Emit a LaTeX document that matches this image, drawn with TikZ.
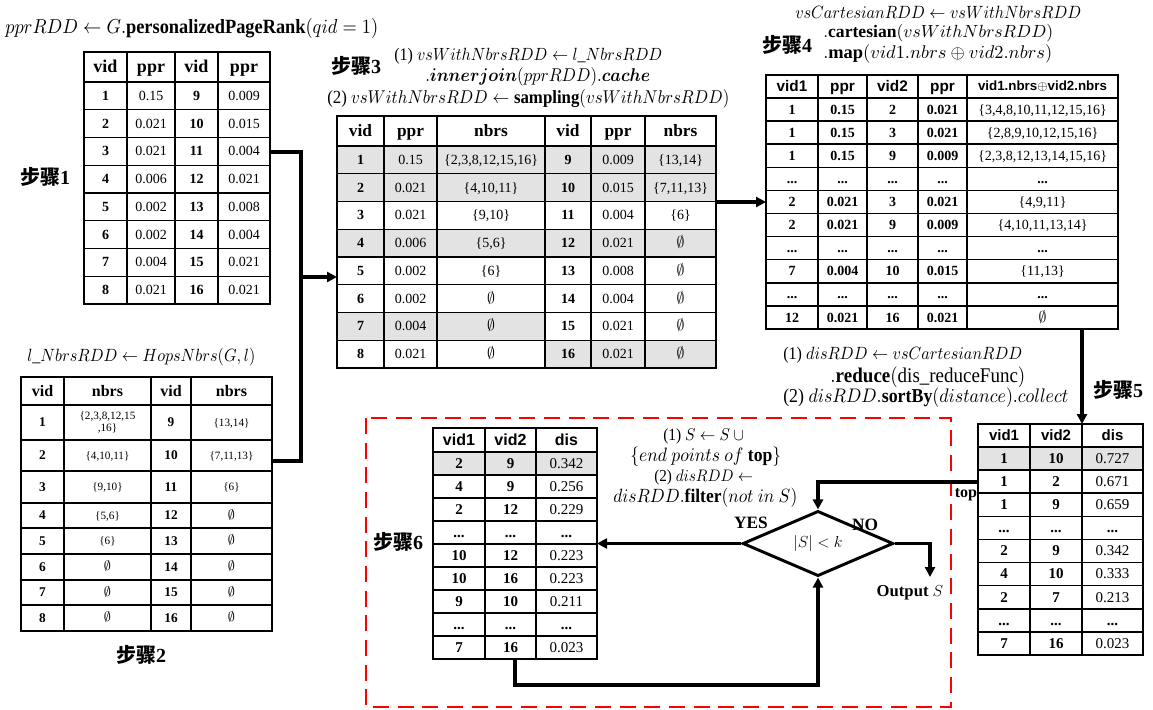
\documentclass[tikz,border=0pt]{standalone}
\usepackage{amsmath,amssymb,bm}
\usepackage{fontspec}
\setmainfont{Liberation Serif}
\setsansfont{Liberation Sans}
\newfontfamily\cjk{Noto Sans CJK SC}
\usetikzlibrary{arrows.meta,shapes.geometric}
\newlength\pxu \setlength\pxu{0.75pt}
\newcommand\fitw[2]{\resizebox{#1\pxu}{!}{\scalebox{1}[1.1]{#2}}}
\newcommand\fitn[2]{\resizebox{#1\pxu}{!}{#2}}
\newcommand\myes{\scalebox{1.08}{$\emptyset$}}
\newcommand\myesB{\scalebox{1.25}{$\emptyset$}}
\newcommand\mydots{\textbf{...}}
\newcommand\fs[1]{\fontsize{#1}{#1}\selectfont}
\newcommand\stepl[1]{{\fs{15}\cjk\bfseries 步骤\rmfamily\bfseries #1}}
\begin{document}
\begin{tikzpicture}[x=0.75pt,y=-0.75pt,
 tab/.style={line width=1.1pt},
 conn/.style={line width=2.4pt},
 arr/.style={-{Triangle[length=7.5pt,width=7.5pt]}},
 shd/.style={fill=black!11},
 cf/.style 2 args={inner sep=0pt,font={\fs{#1}#2},text height={0.7*#1pt},text depth={0.05*#1pt}},
 lbl/.style={anchor=west,inner sep=0pt},
 stp/.style={inner sep=0pt}]
\useasboundingbox (0,0) rectangle (1153,710);
\fill[white] (0,0) rectangle (1153,710);

% ---------- red dashed frame (step 6)
\draw[red,line width=1.9pt,dash pattern=on 12pt off 6.5pt] (366,418) rectangle (951,707);

% ---------- Table 1
\draw[tab] (84,52) rectangle (270,304);
\foreach \x in {127,175,218} \draw[tab] (\x,52) -- (\x,304);
\foreach \i in {0,...,7} \draw[tab] (84,{82+27.75*\i}) -- (270,{82+27.75*\i});
\foreach \t/\x [count=\k] in {vid/105.5,ppr/151,vid/196.5,ppr/244}
  \node[cf={13.5}{\bfseries}] (t1h\k) at (\x,67) {\t};
\foreach \a/\b/\c/\d [count=\i] in {1/0.15/9/0.009,2/0.021/10/0.015,3/0.021/11/0.004,4/0.006/12/0.021,5/0.002/13/0.008,6/0.002/14/0.004,7/0.004/15/0.021,8/0.021/16/0.021}{
  \pgfmathsetmacro\yy{82+27.75*(\i-0.5)}
  \node[cf={10.5}{\bfseries}] (t1a\i) at (105.5,\yy) {\a};
  \node[cf={10.5}{}] (t1b\i) at (151,\yy) {\b};
  \node[cf={10.5}{\bfseries}] (t1c\i) at (196.5,\yy) {\c};
  \node[cf={10.5}{}] (t1d\i) at (244,\yy) {\d};
}

% ---------- Table 2
\draw[tab] (21,377) rectangle (272,631);
\foreach \x in {64,151,191} \draw[tab] (\x,377) -- (\x,631);
\foreach \y in {405,440,471,503,528,554,580,605} \draw[tab] (21,\y) -- (272,\y);
\foreach \t/\x [count=\k] in {vid/42.5,nbrs/107.5,vid/171,nbrs/231.5}
  \node[cf={12}{\bfseries}] (t2h\k) at (\x,391) {\t};
\node[cf={10}{\bfseries}] (t2a1) at (42.5,422.5) {1};
\node[inner sep=0pt,font=\fontsize{8.4}{8.6}\selectfont,align=center] (t2b1) at (107.5,422.5) {\{2,3,8,12,15\\,16\}};
\node[cf={10}{\bfseries}] (t2c1) at (171,422.5) {9};
\node[cf={8.4}{}] (t2d1) at (231.5,422.5) {\{13,14\}};
\foreach \a/\b/\c/\d/\y [count=\i from 2] in {2/{\{4,10,11\}}/10/{\{7,11,13\}}/455.5,3/{\{9,10\}}/11/{\{6\}}/487,4/{\{5,6\}}/12/\myesB/515.5,5/{\{6\}}/13/\myesB/541,6/\myesB/14/\myesB/567,7/\myesB/15/\myesB/592.5,8/\myesB/16/\myesB/618}{
  \node[cf={10}{\bfseries}] (t2a\i) at (42.5,\y) {\a};
  \node[cf={8.4}{}] (t2b\i) at (107.5,\y) {\b};
  \node[cf={10}{\bfseries}] (t2c\i) at (171,\y) {\c};
  \node[cf={8.4}{}] (t2d\i) at (231.5,\y) {\d};
}

% ---------- Table 3
\foreach \r in {1,2,4,7} \fill[shd] (337,{146+27.75*(\r-1)}) rectangle (545,{146+27.75*\r});
\foreach \r in {1,2,4,8} \fill[shd] (545,{146+27.75*(\r-1)}) rectangle (716,{146+27.75*\r});
\draw[tab] (337,116) rectangle (716,368);
\foreach \x in {384,437,545,591,645} \draw[tab] (\x,116) -- (\x,368);
\foreach \i in {0,...,7} \draw[tab] (337,{146+27.75*\i}) -- (716,{146+27.75*\i});
\foreach \t/\x [count=\k] in {vid/360.5,ppr/410.5,nbrs/491,vid/568,ppr/618,nbrs/680.5}
  \node[cf={13}{\bfseries}] (t3h\k) at (\x,131) {\t};
\foreach \a/\b/\c/\d/\e/\f [count=\i] in {1/0.15/{\{2,3,8,12,15,16\}}/9/0.009/{\{13,14\}},2/0.021/{\{4,10,11\}}/10/0.015/{\{7,11,13\}},3/0.021/{\{9,10\}}/11/0.004/{\{6\}},4/0.006/{\{5,6\}}/12/0.021/\myes,5/0.002/{\{6\}}/13/0.008/\myes,6/0.002/\myes/14/0.004/\myes,7/0.004/\myes/15/0.021/\myes,8/0.021/\myes/16/0.021/\myes}{
  \pgfmathsetmacro\yy{146+27.75*(\i-0.5)}
  \node[cf={10.5}{\bfseries}] (t3a\i) at (360.5,\yy) {\a};
  \node[cf={10.5}{}] (t3b\i) at (410.5,\yy) {\b};
  \node[cf={10.5}{}] (t3c\i) at (491,\yy) {\c};
  \node[cf={10.5}{\bfseries}] (t3d\i) at (568,\yy) {\d};
  \node[cf={10.5}{}] (t3e\i) at (618,\yy) {\e};
  \node[cf={10.5}{}] (t3f\i) at (680.5,\yy) {\f};
}

% ---------- Table 4
\draw[tab] (766,75) rectangle (1118,329);
\foreach \x in {818,867,918,967} \draw[tab] (\x,75) -- (\x,329);
\foreach \i in {0,...,9} \draw[tab] (766,{98+23.1*\i}) -- (1118,{98+23.1*\i});
\foreach \t/\x [count=\k] in {vid1/792,ppr/842.5,vid2/892.5,ppr/942.5}
  \node[cf={11.5}{\sffamily\bfseries}] (t4h\k) at (\x,86.5) {\t};
\node[cf={10}{\sffamily\bfseries}] (t4h5) at (1042.5,86.5) {vid1.nbrs$\oplus$vid2.nbrs};
\foreach \a/\b/\c/\d/\e [count=\i] in {1/0.15/2/0.021/{\{3,4,8,10,11,12,15,16\}},1/0.15/3/0.021/{\{2,8,9,10,12,15,16\}},1/0.15/9/0.009/{\{2,3,8,12,13,14,15,16\}},\mydots/\mydots/\mydots/\mydots/\mydots,2/0.021/3/0.021/{\{4,9,11\}},2/0.021/9/0.009/{\{4,10,11,13,14\}},\mydots/\mydots/\mydots/\mydots/\mydots,7/0.004/10/0.015/{\{11,13\}},\mydots/\mydots/\mydots/\mydots/\mydots,12/0.021/16/0.021/\myes}{
  \pgfmathsetmacro\yy{98+23.1*(\i-0.5)}
  \node[cf={10.5}{\bfseries}] (t4a\i) at (792,\yy) {\a};
  \node[cf={10.5}{\bfseries}] (t4b\i) at (842.5,\yy) {\b};
  \node[cf={10.5}{\bfseries}] (t4c\i) at (892.5,\yy) {\c};
  \node[cf={10.5}{\bfseries}] (t4d\i) at (942.5,\yy) {\d};
  \node[cf={10.5}{}] (t4e\i) at (1042.5,\yy) {\e};
}

% ---------- Table 5
\fill[shd] (978,447) rectangle (1143,470.11);
\draw[tab] (978,424) rectangle (1143,655);
\foreach \x in {1030,1082} \draw[tab] (\x,424) -- (\x,655);
\foreach \i in {0,...,8} \draw[tab] (978,{447+23.11*\i}) -- (1143,{447+23.11*\i});
\foreach \t/\x [count=\k] in {vid1/1004,vid2/1056,dis/1112.5}
  \node[cf={11.25}{\sffamily\bfseries}] (t5h\k) at (\x,435.5) {\t};
\foreach \a/\b/\c [count=\i] in {1/10/0.727,1/2/0.671,1/9/0.659,\mydots/\mydots/\mydots,2/9/0.342,4/10/0.333,2/7/0.213,\mydots/\mydots/\mydots,7/16/0.023}{
  \pgfmathsetmacro\yy{447+23.11*(\i-0.5)}
  \node[cf={11.25}{\bfseries}] (t5a\i) at (1004,\yy) {\a};
  \node[cf={11.25}{\bfseries}] (t5b\i) at (1056,\yy) {\b};
  \node[cf={11.25}{}] (t5c\i) at (1112.5,\yy) {\c};
}

% ---------- Table 6
\fill[shd] (433,452) rectangle (597,475);
\draw[tab] (433,428) rectangle (597,659);
\foreach \x in {485,536} \draw[tab] (\x,428) -- (\x,659);
\foreach \i in {0,...,8} \draw[tab] (433,{452+23*\i}) -- (597,{452+23*\i});
\foreach \t/\x [count=\k] in {vid1/459,vid2/510.5,dis/566.5}
  \node[cf={12}{\sffamily\bfseries}] (t6h\k) at (\x,440) {\t};
\foreach \a/\b/\c [count=\i] in {2/9/0.342,4/9/0.256,2/12/0.229,\mydots/\mydots/\mydots,10/12/0.223,10/16/0.223,9/10/0.211,\mydots/\mydots/\mydots,7/16/0.023}{
  \pgfmathsetmacro\yy{452+23*(\i-0.5)}
  \node[cf={11.25}{\bfseries}] (t6a\i) at (459,\yy) {\a};
  \node[cf={11.25}{\bfseries}] (t6b\i) at (510.5,\yy) {\b};
  \node[cf={11.25}{}] (t6c\i) at (566.5,\yy) {\c};
}

% ---------- formulas
\node[lbl] (f1) at (5,28) {\fitw{373}{$pprRDD \leftarrow G.\mathbf{personalizedPageRank}(qid = 1)$}};
\node[lbl] (f2) at (27,357) {\fitw{228}{$l\_NbrsRDD \leftarrow HopsNbrs(G, l)$}};
\node[lbl] (f3a) at (394,56) {\fitw{268}{(1) $vsWithNbrsRDD \leftarrow l\_NbrsRDD$}};
\node[lbl] (f3b) at (425,77) {\fitw{225}{$.\bm{innerjoin}(pprRDD).\bm{cache}$}};
\node[lbl] (f3c) at (327,99) {\fitw{402}{(2) $vsWithNbrsRDD \leftarrow \mathbf{sampling}(vsWithNbrsRDD)$}};
\node[lbl] (f4a) at (795,12) {\fitw{286}{$vsCartesianRDD \leftarrow vsWithNbrsRDD$}};
\node[lbl] (f4b) at (823,33) {\fitn{230}{$.\mathbf{cartesian}(vsWithNbrsRDD)$}};
\node[lbl] (f4c) at (823,54) {\fitn{229}{$.\mathbf{map}(vid1.nbrs\oplus vid2.nbrs)$}};
\node[lbl] (f5a) at (783,355) {\fitw{239}{(1) $disRDD \leftarrow vsCartesianRDD$}};
\node[lbl] (f5b) at (830,377) {\fitw{195}{$.\mathbf{reduce}(\mathrm{dis\_reduceFunc})$}};
\node[lbl] (f5c) at (783,398) {\fitw{285}{(2) $disRDD.\mathbf{sortBy}(distance).collect$}};
\node[lbl] (f6a) at (663,436) {\fitw{84}{(1) $S \leftarrow S \mathbin{\cup}{}$}};
\node[lbl] (f6b) at (630,457) {\fitw{151}{$\{end\ points\ of\ \mathbf{top}\}$}};
\node[lbl] (f6c) at (654,477) {\fitw{103}{(2) $disRDD \leftarrow{}$}};
\node[lbl] (f6d) at (613,498) {\fitw{184}{$disRDD.\mathbf{filter}(not\ in\ S)$}};

% ---------- step labels
\node[stp] (s1) at (45,177) {\stepl{1}};
\node[stp] (s2) at (141,655) {\stepl{2}};
\node[stp] (s3) at (356,66) {\stepl{3}};
\node[stp] (s4) at (787,45) {\stepl{4}};
\node[stp] (s5) at (1118,390) {\stepl{5}};
\node[stp] (s6) at (398,542) {\stepl{6}};

% ---------- decision
\node[diamond,draw,line width=2.2pt,minimum width=113pt,minimum height=43pt,inner sep=0pt,font=\fs{13}] (dia) at (818,543.5) {$|S|<k$};
\node[inner sep=0pt,font=\fs{13}\bfseries] (yes) at (751,523) {YES};
\node[inner sep=0pt,font=\fs{13}\bfseries] (no) at (865,525) {NO};
\node[inner sep=0pt,font=\fs{12}\bfseries] (toplbl) at (966,495) {top};
\node[inner sep=0pt,font=\fs{12.5}] (outl) at (910,593) {\textbf{Output} $S$};

% ---------- connectors
\coordinate (t1out) at (270,152);
\coordinate (t2out) at (272,461);
\coordinate (j) at (301,277);
\coordinate (t3in) at (337,277);
\coordinate (t3out) at (716,202);
\coordinate (t4in) at (766,202);
\coordinate (t4out) at (1082,329);
\coordinate (t5in) at (1082,424);
\coordinate (t5out) at (978,482);
\coordinate (t6in) at (597,543.5);
\coordinate (t6out) at (515,659);
\coordinate (loopc) at (818,685);
\coordinate (outc) at (930,577);
\draw[conn] (t1out) -| (j);
\draw[conn] (t2out) -| (j);
\draw[conn,arr] (j) -- (t3in);
\draw[conn,arr] (t3out) -- (t4in);
\draw[conn,arr] (t4out) -- (t5in);
\draw[conn,arr] (t5out) -| (dia.north);
\draw[conn,arr] (dia.west) -- (t6in);
\draw[conn,arr] (dia.east) -| (outc);
\draw[conn,arr] (t6out) |- (loopc) -- (dia.south);
\end{tikzpicture}
\end{document}
